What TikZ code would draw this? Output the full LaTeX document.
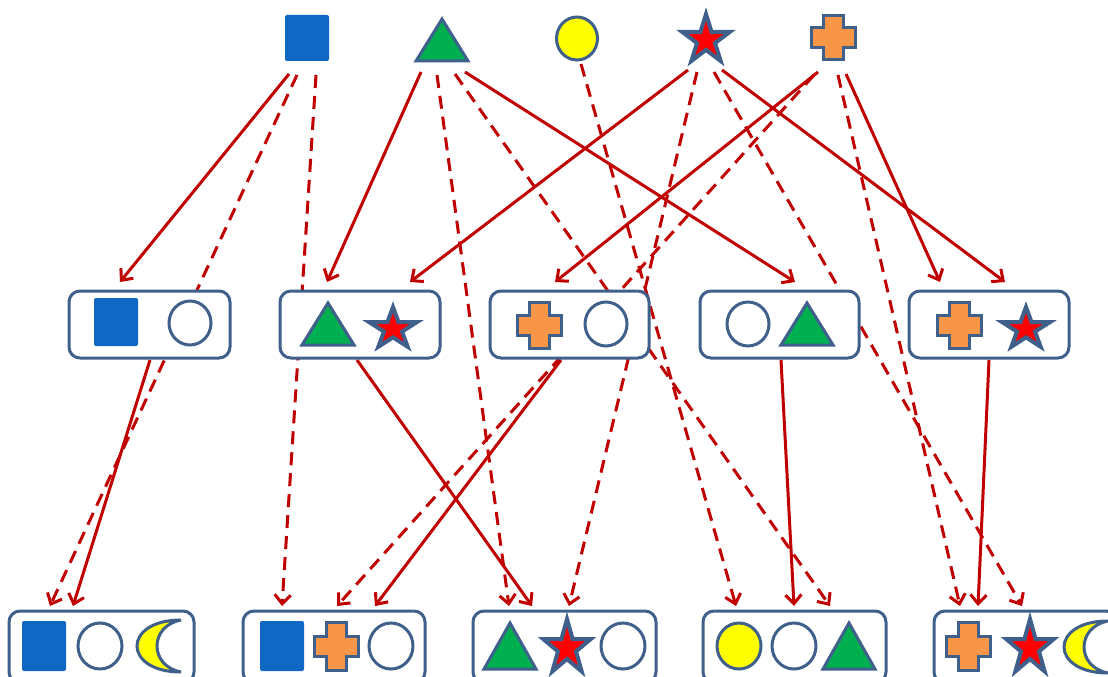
\documentclass[tikz,border=0pt]{standalone}
\usetikzlibrary{arrows.meta,backgrounds}
\definecolor{arrred}{RGB}{192,0,0}
\definecolor{outl}{RGB}{64,96,140}
\definecolor{sqblue}{RGB}{16,104,196}
\definecolor{trigreen}{RGB}{0,176,80}
\definecolor{shyel}{RGB}{255,255,0}
\definecolor{starred}{RGB}{255,0,0}
\definecolor{crossor}{RGB}{247,150,70}
% shape macros (coordinates in px, y downwards)
\newcommand\ShSq[3]{\fill[sqblue,rounded corners=2pt] ({#1-22},{#2-#3}) rectangle ({#1+22},{#2+#3});}
\newcommand\ShTri[3]{\filldraw[shp,fill=trigreen] ({#1},{#2-#3}) -- ({#1+26},{#2+#3}) -- ({#1-26},{#2+#3}) -- cycle;}
\newcommand\ShCirc[4]{\filldraw[shp,fill=#4] (#1,#2) ellipse [x radius=#3pt, y radius=#3pt+1pt];}
\newcommand\ShStar[3]{\filldraw[shp,line width=4pt,fill=starred] ({#1},{#2-25*#3})
  \foreach \a/\r in {126/9.5,162/25,198/9.5,234/25,270/9.5,306/25,342/9.5,18/25,54/9.5}{ -- ({#1+\r*cos(\a)},{#2-\r*#3*sin(\a)})} -- cycle;}
\newcommand\ShCross[3]{\filldraw[shp,fill=crossor] ({#1-10},{#2-#3}) -- ({#1+10},{#2-#3}) -- ({#1+10},{#2-10}) -- ({#1+22},{#2-10}) -- ({#1+22},{#2+10}) -- ({#1+10},{#2+10}) -- ({#1+10},{#2+#3}) -- ({#1-10},{#2+#3}) -- ({#1-10},{#2+10}) -- ({#1-22},{#2+10}) -- ({#1-22},{#2-10}) -- ({#1-10},{#2-10}) -- cycle;}
\newcommand\ShMoon[4]{\filldraw[shp,fill=shyel] (#2,#3) .. controls ({(#1-0.25*#2)/0.75},#3) and ({(#1-0.25*#2)/0.75},#4) .. (#2,#4) .. controls ({(#1+20-0.25*#2)/0.75},{#4-6}) and ({(#1+20-0.25*#2)/0.75},{#3+6}) .. (#2,#3) -- cycle;}
\tikzset{
  shp/.style={draw=outl,line width=3pt,line join=miter},
  box/.style={draw=outl,line width=3pt,fill=white,rounded corners=11pt,inner sep=0pt,minimum height=67pt},
  lbox/.style={box,minimum height=72pt},
  link/.style={draw=arrred,line width=3pt,-{Straight Barb[length=9pt,width=16pt]}},
  dlink/.style={link,dash pattern=on 13pt off 8pt}
}
\begin{document}
\begin{tikzpicture}[x=1pt,y=-1pt]
\useasboundingbox (0,0) rectangle (1108,677);
% middle boxes
\node[box,minimum width=161pt] (M1) at (149.5,324.5) {};
\node[box,minimum width=160pt] (M2) at (360,324.5) {};
\node[box,minimum width=159pt] (M3) at (569.5,324.5) {};
\node[box,minimum width=159pt] (M4) at (779.5,324.5) {};
\node[box,minimum width=160pt] (M5) at (989,324.5) {};
% bottom boxes
\node[lbox,minimum width=185pt] (B1) at (101.5,647) {};
\node[lbox,minimum width=182pt] (B2) at (334,647) {};
\node[lbox,minimum width=183pt] (B3) at (564.5,647) {};
\node[lbox,minimum width=183pt] (B4) at (794.5,647) {};
\node[lbox,minimum width=183pt] (B5) at (1025.5,647) {};
% connector end points
\coordinate (sqA) at (289,74);  \coordinate (sqB) at (297,75);  \coordinate (sqC) at (316,75);
\coordinate (trA) at (421,72);  \coordinate (trB) at (437,75);  \coordinate (trC) at (455,74);  \coordinate (trD) at (465,72);
\coordinate (ciA) at (581,64);
\coordinate (stA) at (688,70);  \coordinate (stB) at (697,72);  \coordinate (stC) at (714,72);  \coordinate (stD) at (722,70);
\coordinate (crA) at (818,72);  \coordinate (crB) at (814,75);  \coordinate (crC) at (838,75);  \coordinate (crD) at (846,74);
\coordinate (m1in) at (120,282);
\coordinate (m2inA) at (327,282); \coordinate (m2inB) at (410,282);
\coordinate (m3in) at (555,282);
\coordinate (m4in) at (795,282);
\coordinate (m5inA) at (940,282); \coordinate (m5inB) at (1005,282);
\coordinate (m1out) at (150,360); \coordinate (m2out) at (357,360); \coordinate (m3out) at (561,360);
\coordinate (m4out) at (781,360); \coordinate (m5out) at (989,360);
\coordinate (b1inA) at (50,606);  \coordinate (b1inB) at (73,606);
\coordinate (b2inA) at (282,606); \coordinate (b2inB) at (337,606); \coordinate (b2inC) at (375,606);
\coordinate (b3inA) at (509,606); \coordinate (b3inB) at (532,606); \coordinate (b3inC) at (569,606);
\coordinate (b4inA) at (736,606); \coordinate (b4inB) at (794,606); \coordinate (b4inC) at (830,606);
\coordinate (b5inA) at (960,606); \coordinate (b5inB) at (978,606); \coordinate (b5inC) at (1022,606);
\begin{pgfonlayer}{background}
% solid
\draw[link] (sqA) -- (m1in);
\draw[link] (trA) -- (m2inA);
\draw[link] (trD) -- (m4in);
\draw[link] (stA) -- (m2inB);
\draw[link] (stD) -- (m5inB);
\draw[link] (crA) -- (m3in);
\draw[link] (crD) -- (m5inA);
\draw[link] (m1out) -- (b1inB);
\draw[link] (m2out) -- (b3inB);
\draw[link] (m3out) -- (b2inC);
\draw[link] (m4out) -- (b4inB);
\draw[link] (m5out) -- (b5inB);
% dashed
\draw[dlink] (sqB) -- (b1inA);
\draw[dlink] (sqC) -- (b2inA);
\draw[dlink] (trB) -- (b3inA);
\draw[dlink] (trC) -- (b4inC);
\draw[dlink] (ciA) -- (b4inA);
\draw[dlink] (stB) -- (b3inC);
\draw[dlink] (stC) -- (b5inC);
\draw[dlink] (crB) -- (b2inB);
\draw[dlink] (crC) -- (b5inA);
\end{pgfonlayer}
% top shapes
\ShSq{307}{38}{23}
\ShTri{442}{40}{21}
\ShCirc{577}{38.5}{20.5}{shyel}
\ShStar{706}{40}{1.04}
\ShCross{833}{38}{22}
% middle shapes
\ShSq{116}{322}{24}
\ShCirc{190}{323}{21}{white}
\ShTri{328}{324}{21}
\ShStar{393}{329}{0.88}
\ShCross{539}{325}{23}
\ShCirc{606}{324}{21}{white}
\ShCirc{748}{324}{21}{white}
\ShTri{807}{324}{21}
\ShCross{959}{325}{23}
\ShStar{1026}{329}{0.88}
% bottom shapes
\ShSq{44}{646}{25}
\ShCirc{100}{646}{22}{white}
\ShMoon{137}{181}{620}{672}
\ShSq{282}{646}{25}
\ShCross{336}{646}{24}
\ShCirc{391}{646}{22}{white}
\ShTri{510}{646}{23}
\ShStar{567}{648}{1.16}
\ShCirc{623}{646}{22}{white}
\ShCirc{739}{646}{22}{shyel}
\ShCirc{794}{646}{22}{white}
\ShTri{849}{646}{23}
\ShCross{968}{646}{24}
\ShStar{1030}{648}{1.16}
\ShMoon{1064}{1108}{621}{673}
\end{tikzpicture}
\end{document}
